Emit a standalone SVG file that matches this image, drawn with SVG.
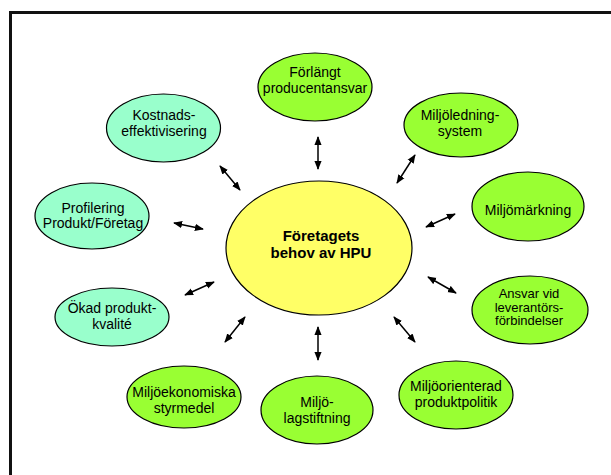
<svg xmlns="http://www.w3.org/2000/svg" width="611" height="475" viewBox="0 0 611 475">
<defs>
<style>
.n{stroke:#000;stroke-width:1.2}
.g{fill:#99FF33}
.t{fill:#99FFCC}
.y{fill:#FFFF66}
text{font-family:"Liberation Sans",Arial,sans-serif;font-size:14px;fill:#000;text-anchor:middle}
.b{font-weight:bold;font-size:15px}
.s{font-size:13px}
.c line{stroke:#000;stroke-width:1.5;marker-start:url(#ah);marker-end:url(#ah)}
</style>
<marker id="ah" viewBox="0 0 10 8" refX="9" refY="4" markerWidth="9" markerHeight="8" markerUnits="userSpaceOnUse" orient="auto-start-reverse">
<path d="M0,0 L10,4 L0,8 Z" fill="#000"/>
</marker>
</defs>
<rect width="611" height="475" fill="#fff"/>
<g id="frame" stroke="#111" stroke-width="3">
<line x1="9" y1="12.5" x2="611" y2="12.5"/>
<line x1="10.5" y1="11" x2="10.5" y2="475"/>
</g>
<g class="c" id="connectors">
<line x1="318" y1="137" x2="318" y2="169"/>
<line x1="397" y1="183" x2="415" y2="155"/>
<line x1="426" y1="227" x2="455" y2="214"/>
<line x1="428" y1="277" x2="456" y2="293"/>
<line x1="394" y1="317" x2="415" y2="342"/>
<line x1="318" y1="327" x2="318" y2="360"/>
<line x1="225" y1="342" x2="245" y2="317"/>
<line x1="185" y1="295" x2="214" y2="282"/>
<line x1="174" y1="223" x2="203" y2="229"/>
<line x1="220" y1="166" x2="240" y2="190"/>
</g>
<g id="center">
<ellipse class="n y" cx="319" cy="248" rx="93" ry="67"/>
<text class="b" x="321" y="241">Företagets</text>
<text class="b" x="321" y="258">behov av HPU</text>
</g>
<g id="forlangt">
<ellipse class="n g" cx="315" cy="87" rx="57" ry="34"/>
<text x="315" y="77">Förlängt</text>
<text x="315" y="93">producentansvar</text>
</g>
<g id="miljoledning">
<ellipse class="n g" cx="461" cy="125" rx="57" ry="32"/>
<text x="460" y="120">Miljöledning-</text>
<text x="460" y="136">system</text>
</g>
<g id="miljomarkning">
<ellipse class="n g" cx="528" cy="206.5" rx="56" ry="34.5"/>
<text x="528" y="215">Miljömärkning</text>
</g>
<g id="ansvar">
<ellipse class="n g" cx="530" cy="310" rx="58" ry="34"/>
<text class="s" x="529" y="298">Ansvar vid</text>
<text class="s" x="529" y="311.5">leverantörs-</text>
<text class="s" x="529" y="325">förbindelser</text>
</g>
<g id="miljoorienterad">
<ellipse class="n g" cx="456" cy="395" rx="57" ry="34"/>
<text x="456" y="391">Miljöorienterad</text>
<text x="456" y="407">produktpolitik</text>
</g>
<g id="lagstiftning">
<ellipse class="n g" cx="317" cy="410" rx="56" ry="34"/>
<text x="317" y="407">Miljö-</text>
<text x="317" y="423">lagstiftning</text>
</g>
<g id="miljoekonomiska">
<ellipse class="n g" cx="184" cy="397" rx="57" ry="31"/>
<text x="184" y="397">Miljöekonomiska</text>
<text x="184" y="413">styrmedel</text>
</g>
<g id="okad">
<ellipse class="n t" cx="112" cy="317" rx="57" ry="29"/>
<text x="112" y="313">Ökad produkt-</text>
<text x="112" y="329">kvalité</text>
</g>
<g id="profilering">
<ellipse class="n t" cx="92" cy="216" rx="57" ry="33"/>
<text x="93" y="213">Profilering</text>
<text x="93" y="228">Produkt/Företag</text>
</g>
<g id="kostnads">
<ellipse class="n t" cx="163.5" cy="128" rx="57" ry="34"/>
<text x="164" y="120">Kostnads-</text>
<text x="164" y="136">effektivisering</text>
</g>
</svg>
